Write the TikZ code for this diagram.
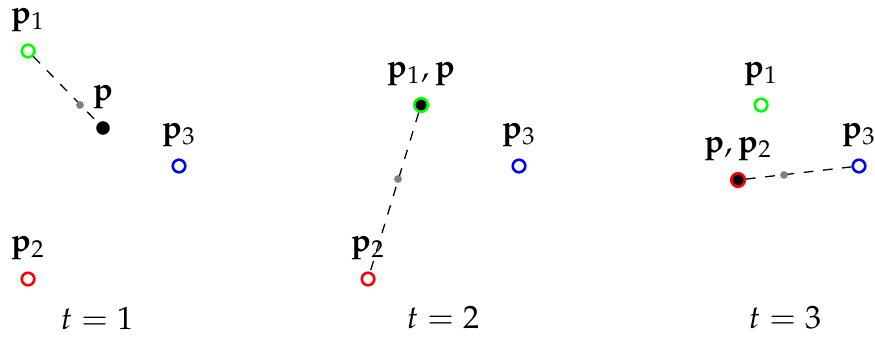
\documentclass[tikz,border=0pt]{standalone}
\usepackage{amsmath, amssymb}
\usepackage{mathpazo}
\usepackage{tikz}
\usetikzlibrary{arrows.meta, positioning, calc}
\definecolor{mGreen}{HTML}{00FF00}
\definecolor{mRed}{HTML}{FF0000}
\definecolor{mBlue}{HTML}{0000FF}

\begin{document}
\begin{tikzpicture}[x=0.31pt, y=-0.31pt,
      pt/.style={circle, draw, line width=0.8pt, minimum size=3.9pt, inner sep=0pt},
      cur/.style={pt, fill=black, minimum size=4.2pt},
      mid/.style={circle, fill=gray, minimum size=2.4pt, inner sep=0pt},
      lab/.style={label distance=1.5pt},
      link/.style={dashed, thin}]
    \useasboundingbox (0,0) rectangle (875,336);
    % t = 1
    \node[pt, mGreen, lab, label={[black]above:$\mathbf{p}_1$}] (a1) at (28,51) {};
    \node[pt, mRed, lab, label={[black]above:$\mathbf{p}_2$}]   (a2) at (28,279) {};
    \node[pt, mBlue, lab, label={[black]above:$\mathbf{p}_3$}]  (a3) at (179,166) {};
    \node[cur, draw=none, lab, label={above:$\mathbf{p}$}]      (ap) at (103,128) {};
    \draw[link] (a1) -- (ap);
    \node[mid] (am) at (80,105) {};
    \node (at) at (97,318) {$t=1$};
    % t = 2
    \node[cur, draw=mGreen, lab, label={above:$\mathbf{p}_1,\mathbf{p}$}] (b1) at (421,105) {};
    \node[pt, mRed, lab, label={[black]above:$\mathbf{p}_2$}]  (b2) at (368,279) {};
    \node[pt, mBlue, lab, label={[black]above:$\mathbf{p}_3$}] (b3) at (519,166) {};
    \draw[link] (b1) -- (b2);
    \node[mid] (bm) at (398,179) {};
    \node (bt) at (443,318) {$t=2$};
    % t = 3
    \node[pt, mGreen, lab, label={[black]above:$\mathbf{p}_1$}] (c1) at (761,105) {};
    \node[cur, draw=mRed, lab, label={above:$\mathbf{p},\mathbf{p}_2$}] (c2) at (738,180) {};
    \node[pt, mBlue, lab, label={[black]above:$\mathbf{p}_3$}]  (c3) at (859,166) {};
    \draw[link] (c2) -- (c3);
    \node[mid] (cm) at (784,175) {};
    \node (ct) at (785,318) {$t=3$};
  \end{tikzpicture}
\end{document}
